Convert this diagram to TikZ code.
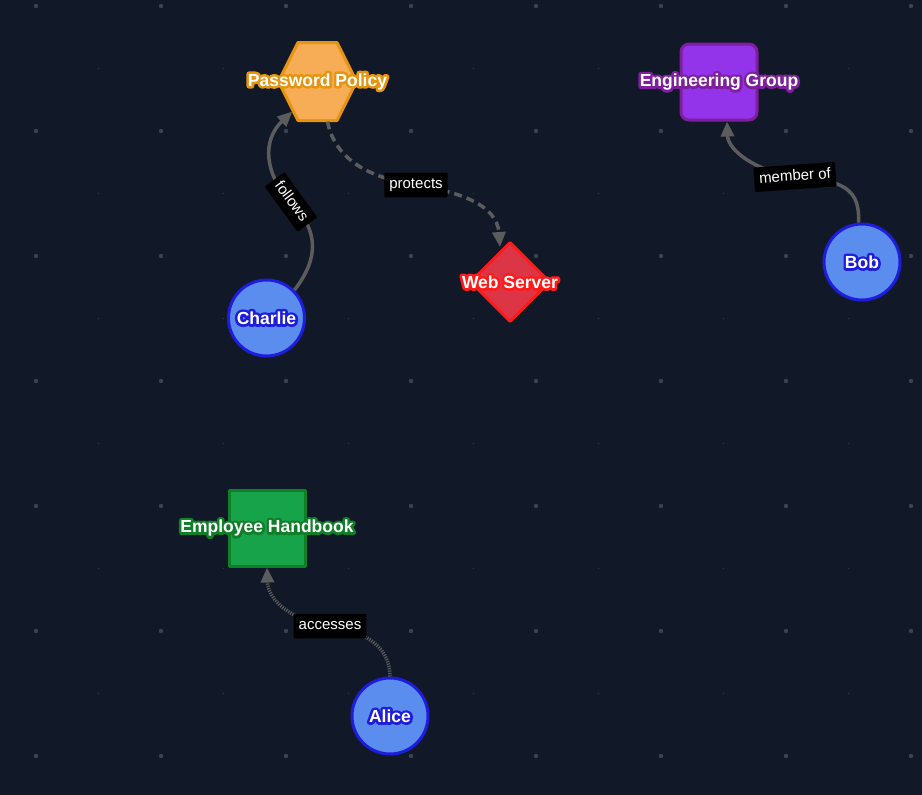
\documentclass[tikz,border=0pt]{standalone}
\usepackage{fontspec}
\setmainfont{Liberation Sans}
\newfontfamily\halofont{Liberation Sans}[FakeBold=30]
\usetikzlibrary{arrows.meta,calc,shapes.geometric}

\definecolor{bgnavy}{HTML}{111827}
\definecolor{dotgray}{HTML}{3B4252}
\definecolor{dotfaint}{HTML}{2A3141}
\definecolor{linkgray}{HTML}{5C5C5C}
\definecolor{personfill}{HTML}{5B8DEF}
\definecolor{personline}{HTML}{1D1DDB}
\definecolor{policyfill}{HTML}{F6AD55}
\definecolor{policyline}{HTML}{E69512}
\definecolor{groupfill}{HTML}{9333EA}
\definecolor{groupline}{HTML}{7E1F9E}
\definecolor{docfill}{HTML}{16A34A}
\definecolor{docline}{HTML}{0F7F2A}
\definecolor{webfill}{HTML}{DC3545}
\definecolor{webline}{HTML}{FF1A1A}

\newcommand{\glowtext}[2]{\special{pdf:literal direct 1 j}\makebox[0pt]{\textcolor{#1}{\halofont\bfseries #2}}\makebox[0pt]{#2}}

\begin{document}
\begin{tikzpicture}[x=1pt,y=-1pt,>={Triangle[length=15pt,width=13pt]},
    entity node/.style={line width=3pt,line join=round,minimum size=76pt,inner sep=0pt,text=white,font=\fontsize{17.5}{20}\selectfont\bfseries},
    person node/.style={entity node,circle,draw=personline,fill=personfill},
    link/.style={->,draw=linkgray,line width=3.5pt},
    link label/.style={fill=black,text=white,inner xsep=5pt,inner ysep=5pt,text height=11pt,text depth=3.5pt,rounded corners=1pt,font=\fontsize{15}{18}\selectfont}]

    % canvas and dot grid
    \useasboundingbox (0,0) rectangle (922,795);
    \fill[bgnavy] (0,0) rectangle (922,795);
    \foreach \i in {0,...,7}
        \foreach \j in {0,...,6}
            \fill[dotgray] (36+125*\i,6+125*\j) circle (2.2pt);
    \foreach \i in {0,...,6}
        \foreach \j in {0,...,5}
            \fill[dotfaint] (98.5+125*\i,68.5+125*\j) circle (0.8pt);

    % hexagon for the policy
    \draw[line width=3pt,draw=policyline,fill=policyfill,line join=round,shift={(317.5,81.5)}]
        (-39,0) -- (-19.5,-39) -- (19.5,-39) -- (39,0) -- (19.5,39) -- (-19.5,39) -- cycle;

    \node[entity node] (policy) at (317.5,81.5) {\glowtext{policyline}{Password Policy}};
    \node[entity node,rectangle,rounded corners=8pt,draw=groupline,fill=groupfill] (engineering) at (719,82) {\glowtext{groupline}{Engineering Group}};
    \node[entity node,diamond,minimum size=80pt,draw=webline,fill=webfill] (web) at (510,282) {\glowtext{webline}{Web Server}};
    \node[entity node,rectangle,draw=docline,fill=docfill] (handbook) at (267,528) {\glowtext{docline}{Employee Handbook}};
    \node[person node] (charlie) at (266.5,318) {\glowtext{personline}{Charlie}};
    \node[person node] (bob) at (862,262) {\glowtext{personline}{Bob}};
    \node[person node] (alice) at (390,716) {\glowtext{personline}{Alice}};

    % links
    \draw[link] (charlie.45) .. controls (320,257) and (318,230) .. (291,202) node[link label,rotate=-54] {follows}
        .. controls (264,174) and (262,140) .. ($(policy)+(-25,30)$);
    \draw[link,dash pattern=on 8pt off 5pt] ($(policy)+(10,40)$) .. controls (335,160) and (370,178) .. (416,185) node[link label] {protects}
        .. controls (460,192) and (497,205) .. ($(web)+(-10,-35)$);
    \draw[link] (bob.95) .. controls (860,190) and (845,180) .. (795,177) node[link label,rotate=4] {member of}
        .. controls (755,171) and (728,150) .. ($(engineering.south)+(8,0)$);
    \draw[link,dash pattern=on 1.2pt off 1.2pt] (alice.north) .. controls (390,650) and (370,632) .. (330,626) node[link label] {accesses}
        .. controls (290,620) and (268,600) .. (handbook.south);

\end{tikzpicture}
\end{document}
